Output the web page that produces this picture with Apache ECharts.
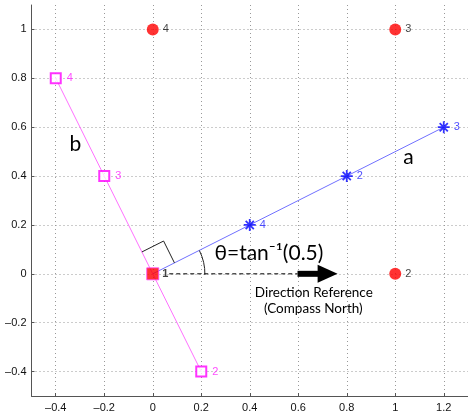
<!DOCTYPE html>
<html>
<head>
<meta charset="utf-8">
<script src="https://cdn.jsdelivr.net/npm/echarts@6/dist/echarts.min.js"></script>
<style>html,body{margin:0;padding:0;background:#fff;}#c{width:468px;height:416px;}</style>
</head>
<body>
<div id="c"></div>
<script>
const xTicks = [-0.4, -0.2, 0, 0.2, 0.4, 0.6, 0.8, 1, 1.2];
const yTicks = [-0.4, -0.2, 0, 0.2, 0.4, 0.6, 0.8, 1];
const refPoints = [[1, 0, '2'], [1, 1, '3'], [0, 1, '4']];
const originPoint = [[0, 0, '1']];
const aMarkers = [[0.4, 0.2, '4'], [0.8, 0.4, '2'], [1.2, 0.6, '3']];
const bMarkers = [[-0.4, 0.8, '4'], [-0.2, 0.4, '3'], [0.2, -0.4, '2']];
const aLine = [[0, 0], [1.2, 0.6]];
const bLine = [[-0.4, 0.8], [0.2, -0.4]];
const aLabelPos = [1.054, 0.476];
const bLabelPos = [-0.319, 0.529];
const thetaTextPos = [0.479, 0.083];
const dirText1Pos = [0.664, -0.078];
const dirText2Pos = [0.662, -0.143];
const arrowXs = [0.068, 0.597, 0.68, 0.762]; // dash start, shaft start, head start, tip

const fmt = v => (v < 0 ? '\u2013' : '') + String(Math.abs(Math.round(v * 10) / 10));
const chart = echarts.init(document.getElementById('c'), null, {renderer: 'canvas'});
const axisCommon = {
  type: 'value',
  axisLine: {onZero: false, lineStyle: {color: '#555', width: 1}},
  axisTick: {show: true, inside: true, length: 3, lineStyle: {color: '#555'}},
  splitLine: {show: true, lineStyle: {color: '#999', type: [1, 3], width: 1}},
  axisLabel: {color: '#111', fontSize: 11, fontFamily: 'Liberation Sans, Arial, sans-serif', formatter: fmt}
};
const asterisk = 'path://M5,0L5,10M0,5L10,5M1.6,1.6L8.4,8.4M1.6,8.4L8.4,1.6';
chart.setOption({
  animation: false,
  grid: {left: 31.5, top: 5, width: 441, height: 391},
  xAxis: Object.assign({}, axisCommon, {
    min: -0.5, max: 1.3,
    axisTick: Object.assign({}, axisCommon.axisTick, {customValues: xTicks}),
    axisLabel: Object.assign({}, axisCommon.axisLabel, {customValues: xTicks, margin: 6})
  }),
  yAxis: Object.assign({}, axisCommon, {
    min: -0.5, max: 1.1,
    axisTick: Object.assign({}, axisCommon.axisTick, {customValues: yTicks}),
    axisLabel: Object.assign({}, axisCommon.axisLabel, {customValues: yTicks, margin: 5})
  }),
  series: [
    {type: 'line', data: aLine, symbol: 'none', lineStyle: {color: '#7070ff', width: 1}, z: 2},
    {type: 'line', data: bLine, symbol: 'none', lineStyle: {color: '#ff70ff', width: 1}, z: 2},
    {type: 'scatter', data: refPoints, symbol: 'circle', symbolSize: 12,
      itemStyle: {color: '#ff0000'},
      label: {show: true, position: 'right', distance: 4, formatter: p => p.value[2], color: '#111', fontSize: 11, fontFamily: 'Liberation Sans, Arial, sans-serif'}, z: 4},
    {type: 'scatter', data: aMarkers, symbol: asterisk, symbolSize: 12,
      itemStyle: {color: 'rgba(0,0,0,0)', borderColor: '#0000ff', borderWidth: 1.8},
      label: {show: true, position: 'right', distance: 3, formatter: p => p.value[2], color: '#2222ff', fontSize: 11, fontFamily: 'Liberation Sans, Arial, sans-serif'}, z: 4},
    {type: 'scatter', data: bMarkers, symbol: 'rect', symbolSize: 10,
      itemStyle: {color: '#ffffff', borderColor: '#ff00ff', borderWidth: 2},
      label: {show: true, position: 'right', distance: 5, formatter: p => p.value[2], color: '#ff22ff', fontSize: 11, fontFamily: 'Liberation Sans, Arial, sans-serif'}, z: 4},
    {type: 'scatter', data: originPoint, symbol: 'rect', symbolSize: 12,
      itemStyle: {color: '#ff0000', borderColor: '#ff44ff', borderWidth: 1},
      label: {show: true, position: 'right', distance: 3, formatter: p => p.value[2], color: '#111', fontSize: 11, fontWeight: 'bold', fontFamily: 'Liberation Sans, Arial, sans-serif'}, z: 5}
  ]
});

const px = p => chart.convertToPixel({gridIndex: 0}, p);
const o = px([0, 0]);
const theta = Math.atan2(aLine[1][1] - aLine[0][1], aLine[1][0] - aLine[0][0]);
const s = 0.1;
const ua = [Math.cos(theta) * s, Math.sin(theta) * s];
const ub = [-Math.sin(theta) * s, Math.cos(theta) * s];
const rb = px(ub), rc = px([ua[0] + ub[0], ua[1] + ub[1]]), ra = px(ua);
const arcR = px([0.215, 0])[0] - o[0];
const d0 = px([arrowXs[0], 0]), d1 = px([arrowXs[1], 0]), d2 = px([arrowXs[2], 0]), d3 = px([arrowXs[3], 0]);
const textStyle = (pos, text, size) => {
  const p = px(pos);
  return {type: 'text', z: 10, style: {text: text, x: p[0], y: p[1], fill: '#000',
    font: size + 'px Lato, "Open Sans", sans-serif', fontSize: size, fontFamily: 'Lato, "Open Sans", sans-serif',
    align: 'center', verticalAlign: 'middle', textAlign: 'center', textVerticalAlign: 'middle'}};
};
chart.setOption({
  graphic: [
    {type: 'polyline', z: 10, shape: {points: [rb, rc, ra]}, style: {stroke: '#222', lineWidth: 1, fill: null}},
    {type: 'arc', z: 10, shape: {cx: o[0], cy: o[1], r: arcR, startAngle: -theta, endAngle: 0.02, clockwise: true}, style: {stroke: '#222', lineWidth: 1, fill: null}},
    {type: 'line', z: 10, shape: {x1: d0[0], y1: d0[1], x2: d1[0], y2: d1[1]}, style: {stroke: '#000', lineWidth: 1, lineDash: [4, 3]}},
    {type: 'rect', z: 10, shape: {x: d1[0], y: d1[1] - 3, width: d2[0] - d1[0] + 1, height: 6}, style: {fill: '#000'}},
    {type: 'polygon', z: 10, shape: {points: [[d2[0], d2[1] - 9], [d3[0], d3[1]], [d2[0], d2[1] + 9]]}, style: {fill: '#000'}},
    textStyle(aLabelPos, 'a', 21),
    textStyle(bLabelPos, 'b', 21),
    textStyle(thetaTextPos, '\u03b8=tan\u207b\u00b9(0.5)', 21),
    textStyle(dirText1Pos, 'Direction Reference', 13.5),
    textStyle(dirText2Pos, '(Compass North)', 13.5)
  ]
});
</script>
</body>
</html>
